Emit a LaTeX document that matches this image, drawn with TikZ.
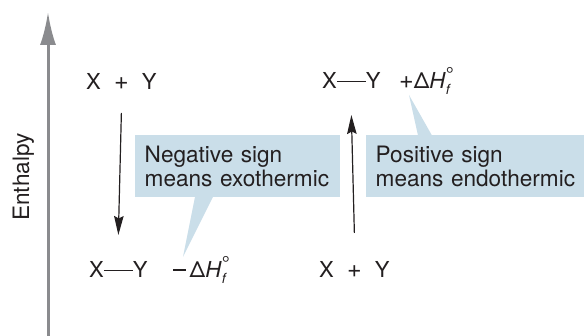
\documentclass[tikz,border=0pt]{standalone}
\usepackage{fontspec}
\setmainfont{TeX Gyre Heros}
\usepackage{xcolor}
\usetikzlibrary{arrows.meta,calc,positioning}
\definecolor{calloutblue}{RGB}{202,222,233}
\definecolor{axisgray}{RGB}{138,139,142}
\definecolor{inkdark}{RGB}{35,31,32}
\newcommand{\bondline}{\rule[7.2pt]{29pt}{1.1pt}}
\newcommand{\bigplus}{{\fontsize{25}{25}\selectfont +}}
\newcommand{\minussign}{\rule[7.4pt]{13pt}{1.3pt}\hspace{3.5pt}}
\newcommand{\dHf}{Δ\textit{H}\rlap{\raisebox{0.32em}{\fontsize{20}{20}\selectfont °}}\raisebox{-0.24em}{\fontsize{14}{14}\selectfont\textit{f}}}
\tikzset{
  species/.style={anchor=base west,inner sep=0pt,text=inkdark,font=\fontsize{22}{24}\selectfont},
  callout/.style={anchor=north west,fill=calloutblue,inner xsep=9.5pt,inner ysep=0pt,minimum height=62pt,align=left,text=inkdark,font=\fontsize{22.6}{24}\selectfont},
  tail/.style={fill=calloutblue},
  arr/.style={-{Stealth[length=19pt,width=9.5pt,inset=2.5pt]},line width=1.2pt,draw=inkdark},
  axisarr/.style={-{Latex[length=33pt,width=16pt]},line width=3pt,draw=axisgray},
}

\begin{document}
\begin{tikzpicture}[x=1pt,y=1pt]
  \useasboundingbox (0,0) rectangle (584,336);

  % enthalpy axis
  \coordinate (axbot) at (48,0);
  \coordinate (axtop) at (48,324);
  \draw[axisarr] (axbot) -- (axtop);
  \node[rotate=90,anchor=base,inner sep=0pt,text=inkdark,font=\fontsize{22.6}{24}\selectfont] (enth) at (29,159) {Enthalpy};

  % exothermic side
  \node[species] (react1) at (86,246) {X\hspace{0.6em}\bigplus\hspace{0.6em}Y};
  \node[species] (prod1) at (89,58) {X\bondline Y};
  \node[species] (neg) at (173,58) {\minussign\dHf};
  \draw[arr] ([yshift=-23pt]react1.base) -- ([yshift=43pt]prod1.base);
  \node[callout,text width=186pt] (exo) at (135,201) {Negative sign\\means exothermic};
  \coordinate (negtip) at (183,79);
  \fill[tail] ($(exo.south west)+(60,0.5)$) -- (negtip) -- ($(exo.south west)+(78,0.5)$) -- cycle;

  % endothermic side
  \node[species] (react2) at (319,58) {X\hspace{0.6em}\bigplus\hspace{0.6em}Y};
  \node[species] (prod2) at (322,247) {X\bondline Y};
  \node[species] (pos) at (399,247) {\bigplus\dHf};
  \draw[arr] ([yshift=45pt]react2.base) -- ([yshift=-26pt]prod2.base);
  \node[callout,text width=205pt] (endo) at (366,201) {Positive sign\\means endothermic};
  \coordinate (postip) at (409,241);
  \fill[tail] ($(endo.north west)+(52,-0.5)$) -- (postip) -- ($(endo.north west)+(66,-0.5)$) -- cycle;
\end{tikzpicture}
\end{document}
